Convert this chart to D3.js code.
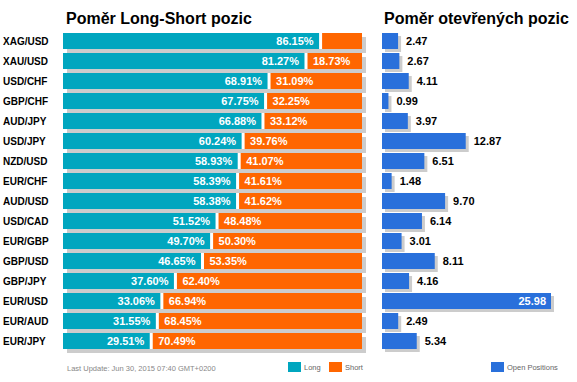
<!DOCTYPE html>
<html><head><meta charset="utf-8">
<script src="https://cdn.jsdelivr.net/npm/d3@7"></script>
<style>body{margin:0;background:#fff}svg{display:block}text{font-family:"Liberation Sans",Arial,sans-serif}</style>
</head><body><div id="chart"></div>
<script>
const pairs = ["XAG/USD","XAU/USD","USD/CHF","GBP/CHF","AUD/JPY","USD/JPY","NZD/USD","EUR/CHF","AUD/USD","USD/CAD","EUR/GBP","GBP/USD","GBP/JPY","EUR/USD","EUR/AUD","EUR/JPY"];
const longPct = [86.15,81.27,68.91,67.75,66.88,60.24,58.93,58.39,58.38,51.52,49.70,46.65,37.60,33.06,31.55,29.51];
const shortPct = [13.85,18.73,31.09,32.25,33.12,39.76,41.07,41.61,41.62,48.48,50.30,53.35,62.40,66.94,68.45,70.49];
const openPos = [2.47,2.67,4.11,0.99,3.97,12.87,6.51,1.48,9.70,6.14,3.01,8.11,4.16,25.98,2.49,5.34];
const titleLeft = "Poměr Long-Short pozic";
const titleRight = "Poměr otevřených pozic";
const footer = "Last Update: Jun 30, 2015 07:40 GMT+0200";

const W=577,H=382;
const cLong="#00a6bf", cShort="#ff6600", cOpen="#2970db", cShadow="#cccccc";
const svg=d3.select("#chart").append("svg").attr("width",W).attr("height",H);

const yS=d3.scaleBand().domain(pairs).range([31,351]).paddingInner(0.2).paddingOuter(0.1);
const bh=yS.bandwidth();
const x=d3.scaleLinear().domain([0,100]).range([63,362]);
const xo=d3.scaleLinear().domain([0,25.98]).range([382,551]);

svg.append("text").attr("x",66).attr("y",23.5).attr("font-size",16).attr("font-weight","bold").attr("fill","#000").text(titleLeft);
svg.append("text").attr("x",384).attr("y",23.5).attr("font-size",16).attr("font-weight","bold").attr("fill","#000").text(titleRight);

const rows=pairs.map((p,i)=>({p,i,l:longPct[i],s:shortPct[i],o:openPos[i]}));
const ry=d=>yS(d.p);

svg.selectAll(".sh").data(rows).join("rect").attr("x",x(0)+4).attr("y",d=>ry(d)+4)
  .attr("width",x(100)-x(0)).attr("height",bh).attr("fill",cShadow);
svg.selectAll(".lg").data(rows).join("rect").attr("x",x(0)).attr("y",ry)
  .attr("width",d=>x(d.l)-x(0)).attr("height",bh).attr("fill",cLong);
svg.selectAll(".st").data(rows).join("rect").attr("x",d=>x(d.l)).attr("y",ry)
  .attr("width",d=>x(100)-x(d.l)).attr("height",bh).attr("fill",cShort);
svg.selectAll(".gap").data(rows).join("rect").attr("x",d=>x(d.l)-1.5).attr("y",ry)
  .attr("width",3).attr("height",bh).attr("fill","#fff");

svg.selectAll(".cat").data(rows).join("text").attr("x",3).attr("y",d=>ry(d)+bh/2+3.5)
  .attr("font-size",10).attr("font-weight","bold").attr("fill","#000").text(d=>d.p);

svg.selectAll(".ll").data(rows).join("text").attr("x",d=>x(d.l)-7).attr("y",d=>ry(d)+bh/2+4)
  .attr("text-anchor","end").attr("font-size",11).attr("font-weight","bold").attr("fill","#fff")
  .text(d=>d.l.toFixed(2)+"%");
svg.selectAll(".sl").data(rows.filter(d=>d.s>15)).join("text").attr("x",d=>x(d.l)+7).attr("y",d=>ry(d)+bh/2+4)
  .attr("font-size",11).attr("font-weight","bold").attr("fill","#fff")
  .text(d=>d.s.toFixed(2)+"%");

svg.selectAll(".osh").data(rows).join("rect").attr("x",xo(0)+3).attr("y",d=>ry(d)+3)
  .attr("width",d=>xo(d.o)-xo(0)).attr("height",bh).attr("fill",cShadow);
svg.selectAll(".ob").data(rows).join("rect").attr("x",xo(0)).attr("y",ry)
  .attr("width",d=>xo(d.o)-xo(0)).attr("height",bh).attr("fill",cOpen);
svg.selectAll(".ol").data(rows).join("text")
  .attr("x",d=>d.o>20?xo(d.o)-5:xo(d.o)+8).attr("y",d=>ry(d)+bh/2+4)
  .attr("text-anchor",d=>d.o>20?"end":"start")
  .attr("font-size",11).attr("font-weight","bold").attr("fill",d=>d.o>20?"#fff":"#000")
  .text(d=>d.o.toFixed(2));

svg.append("text").attr("x",67).attr("y",371).attr("font-size",7.5).attr("fill","#888").text(footer);
const leg=[{x:288,c:cLong,t:"Long"},{x:329,c:cShort,t:"Short"},{x:491,c:cOpen,t:"Open Positions"}];
leg.forEach(l=>{
  svg.append("rect").attr("x",l.x).attr("y",362).attr("width",13).attr("height",10).attr("fill",l.c);
  svg.append("text").attr("x",l.x+16).attr("y",369.5).attr("font-size",7.5).attr("fill","#666").text(l.t);
});
</script></body></html>
